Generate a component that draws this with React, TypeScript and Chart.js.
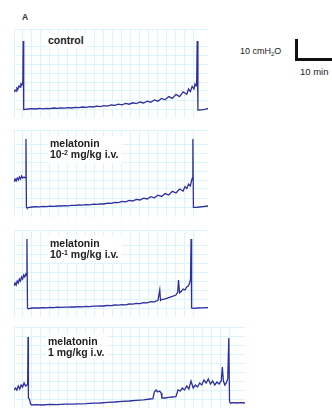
import React, { useEffect, useRef } from "react";
import { Chart, registerables } from "chart.js";

Chart.register(...registerables);

// ---- data (time in min, pressure in cmH2O) ----
const ctrlTime = [
  0, 0.3, 0.6, 0.8, 1.1, 1.4, 1.7, 1.9, 2.2, 2.45,
  2.55, 2.65, 2.75, 4, 5, 6, 7, 8, 9, 10,
  11, 12, 13, 14, 15, 16, 17, 18, 19, 20,
  21, 22, 23, 24, 25, 26, 27, 28, 29, 30,
  31, 32, 33, 34, 35, 36, 37, 38, 39, 40,
  41, 42, 43, 44, 45, 46, 47, 48, 48.5, 49,
  49.5, 50, 50.3, 50.6, 50.75, 50.9, 51.1, 52, 53, 54,
];
const ctrlPressure = [
  8.5, 9.5, 9, 10.5, 10, 11.5, 11, 12.5, 12, 13.5,
  34, 0, -0.3, 0, 0.2, 0, 0.3, 0.1, 0.3, 0.2,
  0.5, 0.3, 0.5, 0.4, 0.7, 0.5, 0.8, 0.7, 1.0, 0.8,
  1.2, 1.0, 1.4, 1.2, 1.7, 1.4, 2.0, 1.8, 2.4, 2.1,
  2.8, 2.4, 3.1, 2.7, 3.5, 3.0, 3.9, 3.4, 4.5, 3.9,
  5.3, 4.6, 6.2, 5.3, 7.3, 6.2, 8.6, 7.4, 10.0, 8.7,
  11.3, 10.0, 12.5, 11.6, 13.5, 34, -0.5, -0.4, -0.2, 0.3,
];

const mel2Time = [
  0, 0.3, 0.6, 0.9, 1.2, 1.5, 1.8, 2.1, 2.4, 2.8,
  3.2, 3.33, 3.45, 3.6, 5, 6, 7, 8, 9, 10,
  11, 12, 13, 14, 15, 16, 17, 18, 19, 20,
  21, 22, 23, 24, 25, 26, 27, 28, 29, 30,
  31, 32, 33, 34, 35, 36, 37, 38, 39, 40,
  41, 42, 43, 44, 45, 46, 47, 47.5, 48, 48.5,
  49, 49.3, 49.55, 49.7, 49.85, 50.5, 51.5, 52.5, 53.9,
];
const mel2Pressure = [
  12.5, 14, 13, 14.5, 13.5, 15, 14, 15.5, 14.5, 15,
  14.5, 34, 0, -0.4, 0, 0.2, 0.1, 0.3, 0.2, 0.4,
  0.3, 0.5, 0.5, 0.7, 0.6, 0.8, 0.8, 1.0, 0.9, 1.2,
  1.1, 1.4, 1.3, 1.6, 1.5, 1.9, 1.8, 2.3, 2.2, 2.8,
  2.6, 3.3, 3.0, 3.8, 3.5, 4.4, 4.0, 5.2, 4.6, 5.9,
  5.3, 6.7, 6.0, 7.8, 7.0, 9.0, 8.0, 10.2, 9.2, 11.4,
  10.5, 13.0, 14.5, 34, -0.2, -0.2, 0, 0.2, 0.5,
];

const mel1Time = [
  0, 0.3, 0.6, 0.9, 1.2, 1.5, 1.8, 2.1, 2.4, 2.7,
  3.0, 3.3, 3.5, 3.6, 3.75, 3.9, 5, 6, 7, 8,
  9, 10, 11, 12, 13, 14, 15, 16, 17, 18,
  19, 20, 21, 22, 23, 24, 25, 26, 27, 28,
  29, 30, 31, 32, 33, 34, 35, 36, 37, 38,
  39, 40, 40.5, 40.7, 41, 42, 43, 44, 45, 45.5,
  45.7, 46, 46.5, 47, 47.5, 48, 48.4, 48.8, 49.05, 49.2,
  49.35, 50, 51, 52, 53.9,
];
const mel1Pressure = [
  11, 12.5, 11.5, 13.5, 12.5, 14.5, 13.5, 15.5, 14.5, 16.5,
  15.5, 17, 16.5, 34.5, 0, -0.4, 0, 0.1, 0, 0.2,
  0.1, 0.3, 0.2, 0.4, 0.3, 0.4, 0.4, 0.6, 0.5, 0.7,
  0.6, 0.8, 0.7, 0.9, 0.9, 1.1, 1.0, 1.3, 1.2, 1.5,
  1.4, 1.7, 1.6, 2.0, 1.9, 2.3, 2.2, 2.7, 2.6, 3.2,
  3.1, 3.8, 9, 3.8, 4.2, 4.6, 5.2, 5.8, 6.5, 8.0,
  14, 7.6, 8.4, 9.5, 9.0, 10.5, 11.0, 12.5, 14.5, 34.5,
  0, -0.2, 0, 0.1, 0.2,
];

const mel0Time = [
  0, 0.4, 0.8, 1.2, 1.6, 2.0, 2.4, 2.8, 3.2, 3.6,
  3.8, 3.9, 4.0, 4.3, 4.6, 5.0, 6, 8, 10, 12,
  14, 16, 18, 20, 22, 24, 26, 28, 30, 32,
  34, 36, 37.8, 38.6, 39.0, 39.5, 40.0, 40.5, 40.9, 41.1,
  42, 43, 44, 45, 45.6, 46.2, 46.8, 47.4, 48.0, 48.6,
  49.2, 49.8, 50.4, 51.0, 51.6, 52.2, 52.8, 53.4, 54.0, 54.6,
  55.2, 55.8, 56.4, 57.0, 57.6, 57.9, 58.2, 58.6, 59.0, 59.4,
  59.7, 59.9, 60.1, 60.4, 61, 62, 63, 64.2,
];
const mel0Pressure = [
  7.5, 8.5, 7.5, 9.5, 8, 10, 9, 11, 9.5, 10,
  10.5, 34, 3.5, 3, 0.5, 0, 0.2, 0, 0.3, 0.2,
  0.4, 0.4, 0.6, 0.7, 0.9, 1.0, 1.3, 1.5, 1.8, 2.0,
  2.3, 2.6, 3.0, 3.2, 6.5, 7.5, 6.5, 7.0, 6.0, 3.5,
  3.5, 3.8, 4.0, 4.2, 7.5, 7.0, 8.5, 7.5, 9.5, 8.0,
  12.0, 8.5, 10.0, 9.0, 11.0, 10.0, 12.5, 11.0, 13.0, 10.5,
  12.0, 10.0, 11.5, 10.5, 12.0, 19.0, 12.0, 10.0, 11.0, 13.0,
  33.5, 2.0, 1.0, 1.0, 1.2, 1.0, 1.2, 1.0,
];

const TRACE = "#2e2ea0";
const GRID = "#daf5fb";
const FONT = "'Liberation Sans', Arial, sans-serif";

type PanelProps = {
  time: number[];
  pressure: number[];
  left: number;
  top: number;
  width: number;
  height: number;
  xMax: number;
  yMin: number;
  yMax: number;
};

function Panel({ time, pressure, left, top, width, height, xMax, yMin, yMax }: PanelProps) {
  const ref = useRef<HTMLCanvasElement | null>(null);
  useEffect(() => {
    if (!ref.current) return;
    const chart = new Chart(ref.current, {
      type: "line",
      data: {
        datasets: [
          {
            data: time.map((t, i) => ({ x: t, y: pressure[i] })),
            borderColor: TRACE,
            borderWidth: 1.3,
            pointRadius: 0,
            tension: 0,
            fill: false,
          },
        ],
      },
      options: {
        animation: false,
        responsive: false,
        maintainAspectRatio: false,
        layout: { padding: 0 },
        plugins: { legend: { display: false }, tooltip: { enabled: false } },
        scales: {
          x: {
            type: "linear",
            min: 0,
            max: xMax,
            ticks: { display: false, stepSize: 2.5 },
            grid: { color: GRID, drawTicks: false, lineWidth: 1 },
            border: { display: false },
          },
          y: {
            type: "linear",
            min: yMin,
            max: yMax,
            ticks: { display: false, stepSize: 4.5 },
            grid: { color: GRID, drawTicks: false, lineWidth: 1 },
            border: { display: false },
          },
        },
      },
    });
    return () => chart.destroy();
  }, []);
  return (
    <canvas
      ref={ref}
      width={width}
      height={height}
      style={{ position: "absolute", left, top, width, height }}
    />
  );
}

function Label({ left, top, lines }: { left: number; top: number; lines: React.ReactNode[] }) {
  return (
    <div
      style={{
        position: "absolute",
        left: left - 2,
        top: top - 2,
        padding: "2px 3px 2px 2px",
        background: "#ffffff",
        fontFamily: FONT,
        fontWeight: "bold",
        fontSize: 10.5,
        lineHeight: "11px",
        color: "#222",
        whiteSpace: "nowrap",
      }}
    >
      {lines.map((l, i) => (
        <div key={i}>{l}</div>
      ))}
    </div>
  );
}

const sup = (s: string) => (
  <span style={{ fontSize: 7, position: "relative", top: -3 }}>{s}</span>
);

export default function App() {
  return (
    <div
      style={{
        position: "absolute",
        left: 0,
        top: 0,
        width: 332,
        height: 411,
        background: "#fff",
        overflow: "hidden",
      }}
    >
      <div
        style={{
          position: "absolute",
          left: 22,
          top: 12,
          fontFamily: FONT,
          fontSize: 8.5,
          fontWeight: "bold",
          color: "#333",
        }}
      >
        A
      </div>

      <Panel time={ctrlTime} pressure={ctrlPressure} left={14} top={29} width={194} height={89} xMax={53.9} yMin={-4.5} yMax={40} />
      <Panel time={mel2Time} pressure={mel2Pressure} left={14} top={130} width={194} height={87} xMax={53.9} yMin={-5} yMax={38.5} />
      <Panel time={mel1Time} pressure={mel1Pressure} left={14} top={230} width={194} height={87} xMax={53.9} yMin={-4.5} yMax={39} />
      <Panel time={mel0Time} pressure={mel0Pressure} left={14} top={327} width={231} height={81} xMax={64.2} yMin={-1.5} yMax={39} />

      <Label left={48} top={35} lines={["control"]} />
      <Label left={50} top={138} lines={["melatonin", <>10{sup("-2")} mg/kg i.v.</>]} />
      <Label left={50} top={238} lines={["melatonin", <>10{sup("-1")} mg/kg i.v.</>]} />
      <Label left={48} top={336} lines={["melatonin", "1 mg/kg i.v."]} />

      {/* scale bar */}
      <div
        style={{
          position: "absolute",
          left: 240,
          top: 46,
          fontFamily: FONT,
          fontSize: 9,
          color: "#222",
          whiteSpace: "nowrap",
        }}
      >
        10 cmH<span style={{ fontSize: 6, position: "relative", top: 2 }}>2</span>O
      </div>
      <div style={{ position: "absolute", left: 295, top: 39, width: 3, height: 22, background: "#111" }} />
      <div style={{ position: "absolute", left: 295, top: 58, width: 37, height: 3, background: "#111" }} />
      <div
        style={{
          position: "absolute",
          left: 300,
          top: 66,
          fontFamily: FONT,
          fontSize: 9.5,
          color: "#222",
          whiteSpace: "nowrap",
        }}
      >
        10 min
      </div>
    </div>
  );
}
